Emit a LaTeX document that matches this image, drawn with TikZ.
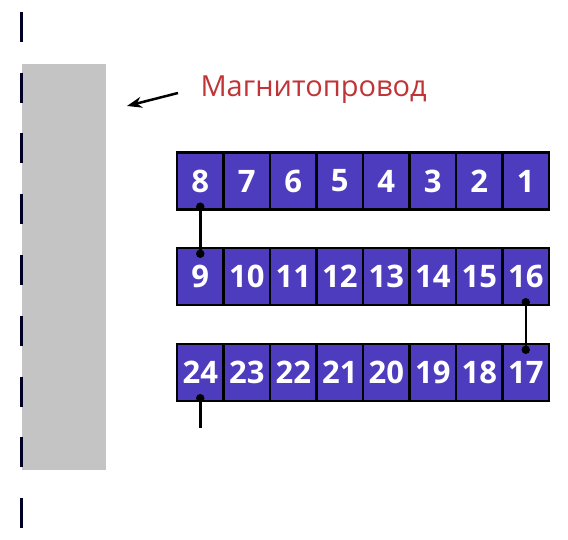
\documentclass[tikz,border=0pt]{standalone}
\usepackage{fontspec}
\setmainfont{Open Sans}
\usetikzlibrary{arrows.meta, positioning}
\definecolor{coilblue}{RGB}{78,60,190}
\definecolor{labelred}{RGB}{192,52,56}
\definecolor{coregray}{RGB}{196,196,196}
\tikzset{
  turn/.style={draw=black, line width=2.5pt, fill=coilblue, minimum width=46.5pt,
    minimum height=57pt, inner sep=0pt, text=white, font=\fontsize{31}{31}\selectfont\bfseries},
  lead/.style={line width=2.5pt},
  joint/.style={circle, fill=black, inner sep=0pt, minimum size=8.5pt}
}
\begin{document}
\begin{tikzpicture}[x=1pt, y=-1pt]
\useasboundingbox (0,0) rectangle (568,540);

% core
\node (core) at (64,267) [fill=coregray, minimum width=84pt, minimum height=406pt, inner sep=0pt] {};
\draw [line width=3pt, draw=black!85!blue, dash pattern=on 30pt off 30.75pt] (21,12) -- (21,530);

% label and arrow
\node (coretext) at (197,97) [anchor=base west, text=labelred, font=\fontsize{29}{29}\selectfont] {Магнитопровод};
\coordinate (arrtail) at (178,93);
\coordinate (arrtip) at (127,106);
\draw [-{Stealth[length=15pt, width=11pt]}, line width=2.5pt] (arrtail) -- (arrtip);

% winding turns
\foreach \k in {1,...,8} {
  \pgfmathtruncatemacro{\na}{9-\k}
  \pgfmathtruncatemacro{\nb}{8+\k}
  \pgfmathtruncatemacro{\nc}{25-\k}
  \node (c\na) at (177+46.5*\k-23.25,181) [turn] {\na};
  \node (c\nb) at (177+46.5*\k-23.25,276.5) [turn] {\nb};
  \node (c\nc) at (177+46.5*\k-23.25,372.5) [turn] {\nc};
}

% leads between rows
\draw [lead] ([yshift=4pt]c8.south) node[joint]{} -- ([yshift=-7pt]c9.north) node[joint]{};
\draw [lead] ([yshift=4pt]c16.south) node[joint]{} -- ([yshift=-7pt]c17.north) node[joint]{};
\coordinate (tail) at (200.25,428);
\draw [lead] ([yshift=4pt]c24.south) node[joint]{} -- (tail);

\end{tikzpicture}
\end{document}
